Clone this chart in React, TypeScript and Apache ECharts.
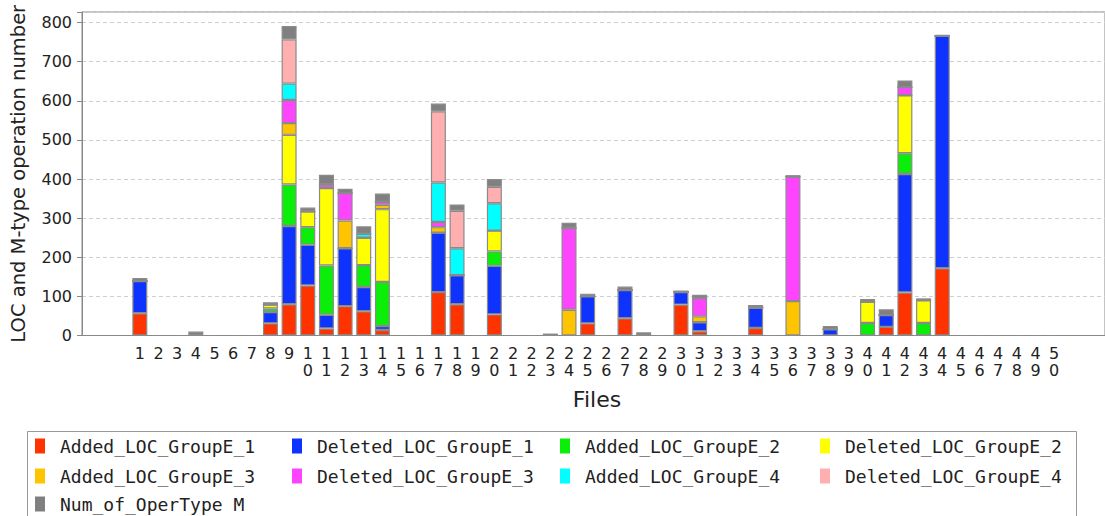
import React, { useEffect, useRef } from "react";
import * as echarts from "echarts";

const files: string[] = [
  "1", "2", "3", "4", "5", "6", "7", "8", "9", "10", "11", "12", "13", "14", "15", "16", "17", "18", "19", "20",
  "21", "22", "23", "24", "25", "26", "27", "28", "29", "30", "31", "32", "33", "34", "35", "36", "37", "38", "39", "40",
  "41", "42", "43", "44", "45", "46", "47", "48", "49", "50",
];

const yTicks: number[] = [0, 100, 200, 300, 400, 500, 600, 700, 800];

//                              1   2  3  4  5  6  7  8   9   10   11   12  13  14  15 16  17   18 19  20 21 22 23 24  25 26  27 28 29  30  31 32 33  34 35  36 37  38 39  40  41   42  43   44 45 46 47 48 49 50
const addedLoc1: number[] =   [57,  0, 0, 0, 0, 0, 0, 31,  80, 128,  18,  75, 62, 14, 0, 0, 111,  80, 0,  54, 0, 0, 0,  0, 31, 0, 44, 0, 0, 79, 11, 0, 0, 19, 0,   0, 0,  0, 0,  0, 22, 110,  0, 172, 0, 0, 0, 0, 0, 0];
const deletedLoc1: number[] = [82,  0, 0, 0, 0, 0, 0, 29, 200, 104,  35, 148, 62, 10, 0, 0, 152,  74, 0, 124, 0, 0, 0,  0, 69, 0, 72, 0, 0, 32, 23, 0, 0, 52, 0,   0, 0, 16, 0,  0, 30, 303,  0, 594, 0, 0, 0, 0, 0, 0];
const addedLoc2: number[] =   [ 0,  0, 0, 0, 0, 0, 0,  9, 106,  45, 126,   0, 56,113, 0, 0,   0,   0, 0,  37, 0, 0, 0,  0,  0, 0,  0, 0, 0,  0,  0, 0, 0,  0, 0,   0, 0,  0, 0, 32,  0,  53, 32,   0, 0, 0, 0, 0, 0, 0];
const deletedLoc2: number[] = [ 0,  0, 0, 0, 0, 0, 0, 10, 127,  40, 198,   0, 70,186, 0, 0,   0,   0, 0,  53, 0, 0, 0,  0,  0, 0,  0, 0, 0,  0,  0, 0, 0,  0, 0,   0, 0,  0, 0, 54,  0, 148, 58,   0, 0, 0, 0, 0, 0, 0];
const addedLoc3: number[] =   [ 0,  0, 0, 0, 0, 0, 0,  0,  30,   0,   0,  71,  0, 11, 0, 0,  14,   0, 0,   0, 0, 0, 0, 66,  0, 0,  0, 0, 0,  0, 15, 0, 0,  0, 0,  88, 0,  0, 0,  0,  0,   0,  0,   0, 0, 0, 0, 0, 0, 0];
const deletedLoc3: number[] = [ 0,  0, 0, 0, 0, 0, 0,  0,  59,   0,   9,  70,  0,  8, 0, 0,  13,   0, 0,   0, 0, 0, 0,209,  0, 0,  0, 0, 0,  0, 47, 0, 0,  0, 0, 318, 0,  0, 0,  0,  0,  21,  0,   0, 0, 0, 0, 0, 0, 0];
const addedLoc4: number[] =   [ 0,  0, 0, 0, 0, 0, 0,  0,  42,   0,   0,   0, 10,  0, 0, 0, 101,  69, 0,  70, 0, 0, 0,  0,  0, 0,  0, 0, 0,  0,  0, 0, 0,  0, 0,   0, 0,  0, 0,  0,  0,   0,  0,   0, 0, 0, 0, 0, 0, 0];
const deletedLoc4: number[] = [ 0,  0, 0, 0, 0, 0, 0,  0, 113,   0,   0,   0,  0,  0, 0, 0, 182,  96, 0,  42, 0, 0, 0,  0,  0, 0,  0, 0, 0,  0,  0, 0, 0,  0, 0,   0, 0,  0, 0,  0,  0,   0,  0,   0, 0, 0, 0, 0, 0, 0];
const numOperTypeM: number[] = [ 8, 0, 0,10, 0, 0, 0,  6,  34,  10,  25,  11, 19, 21, 0, 0,  20,  16, 0,  20, 0, 0, 5, 13,  7, 0,  9, 8, 0,  4,  8, 0, 0,  7, 0,   4, 0,  8, 0,  7, 15,  17,  5,   3, 0, 0, 0, 0, 0, 0];

const seriesNames: string[] = [
  "Added_LOC_GroupE_1",
  "Deleted_LOC_GroupE_1",
  "Added_LOC_GroupE_2",
  "Deleted_LOC_GroupE_2",
  "Added_LOC_GroupE_3",
  "Deleted_LOC_GroupE_3",
  "Added_LOC_GroupE_4",
  "Deleted_LOC_GroupE_4",
  "Num_of_OperType M",
];
const seriesValues: number[][] = [
  addedLoc1, deletedLoc1, addedLoc2, deletedLoc2, addedLoc3, deletedLoc3, addedLoc4, deletedLoc4, numOperTypeM,
];
const seriesColors: string[] = [
  "#FF3300", "#0F33FF", "#0AEE0A", "#FFFF00", "#FFC400", "#FF44FF", "#00FFFF", "#FFAFAF", "#808080",
];

// legend slot (column, row) for each series, in series order
const legendCol: number[] = [0, 1, 2, 3, 0, 1, 2, 3, 0];
const legendRow: number[] = [0, 0, 0, 0, 1, 1, 1, 1, 2];
const legendColLeft: number[] = [35, 292, 560, 820];
const legendRowTop: number[] = [437, 467, 495];

export default function App() {
  const ref = useRef<HTMLDivElement>(null);
  useEffect(() => {
    if (!ref.current) return;
    const chart = echarts.init(ref.current, undefined, { renderer: "svg" });
    const series = seriesNames.map((name, i) => ({
      name,
      type: "bar",
      stack: "all",
      xAxisIndex: 1,
      yAxisIndex: 1,
      barWidth: 15,
      itemStyle: { color: seriesColors[i], borderColor: "#8a8a8a", borderWidth: 1.2 },
      data: seriesValues[i],
    }));
    const legends = seriesNames.map((name, i) => ({
      data: [name],
      orient: "horizontal",
      left: legendColLeft[legendCol[i]],
      top: legendRowTop[legendRow[i]],
      padding: 0,
      itemWidth: 10,
      itemHeight: 15,
      icon: "rect",
      selectedMode: false,
      itemStyle: { borderWidth: 0 },
      textStyle: {
        fontFamily: "DejaVu Sans Mono",
        fontSize: 18,
        lineHeight: 18,
        color: "#222",
        padding: [0, 0, 0, 10],
      },
    }));
    chart.setOption({
      animation: false,
      backgroundColor: "#fff",
      textStyle: { fontFamily: "DejaVu Sans" },
      grid: [
        {
          left: 82,
          top: 12,
          width: 1030,
          height: 323.5,
          show: true,
          borderColor: "#888",
          borderWidth: 1,
          backgroundColor: "#fff",
        },
        {
          left: 130.5,
          top: 12,
          width: 933,
          height: 323.5,
          show: false,
        },
      ],
      legend: legends,
      graphic: [
        {
          type: "rect",
          shape: { x: 27.5, y: 431.5, width: 1049, height: 120 },
          style: { fill: "none", stroke: "#999", lineWidth: 1 },
          silent: true,
        },
      ],
      xAxis: [
        {
          type: "value",
          gridIndex: 0,
          min: 0,
          max: 1,
          axisLine: { show: true, lineStyle: { color: "#888" } },
          axisTick: { show: false },
          axisLabel: { show: false },
          splitLine: { show: false },
        },
        {
          type: "category",
          gridIndex: 1,
          data: files,
          name: "Files",
          nameLocation: "middle",
          nameGap: 53,
          nameTextStyle: { fontSize: 22, color: "#222", fontFamily: "DejaVu Sans" },
          axisLine: { show: false },
          axisTick: { show: false },
          splitLine: { show: false },
          axisLabel: {
            interval: 0,
            formatter: (v: string) => v.split("").join("\n"),
            fontSize: 16,
            lineHeight: 17,
            margin: 9,
            color: "#222",
            fontFamily: "DejaVu Sans",
          },
        },
      ],
      yAxis: [
        {
          type: "value",
          gridIndex: 0,
          min: 0,
          max: 827,
          interval: 100,
          name: "LOC and M-type operation number",
          nameLocation: "middle",
          nameGap: 54,
          nameTextStyle: { fontSize: 19.5, color: "#222", fontFamily: "DejaVu Sans" },
          axisLine: { show: true, lineStyle: { color: "#888" } },
          axisTick: { show: true, length: 5, lineStyle: { color: "#888" } },
          splitLine: { show: true, lineStyle: { color: "#cfcfcf", type: [4, 3] } },
          axisLabel: {
            formatter: (v: number) => (yTicks.indexOf(v) >= 0 ? String(v) : ""),
            fontSize: 16,
            margin: 10,
            color: "#222",
            fontFamily: "DejaVu Sans",
          },
        },
        {
          type: "value",
          gridIndex: 1,
          min: 0,
          max: 827,
          show: false,
        },
      ],
      series,
    });
    return () => chart.dispose();
  }, []);
  return (
    <div
      ref={ref}
      style={{ position: "absolute", left: 0, top: 0, width: 1105, height: 516 }}
    />
  );
}
